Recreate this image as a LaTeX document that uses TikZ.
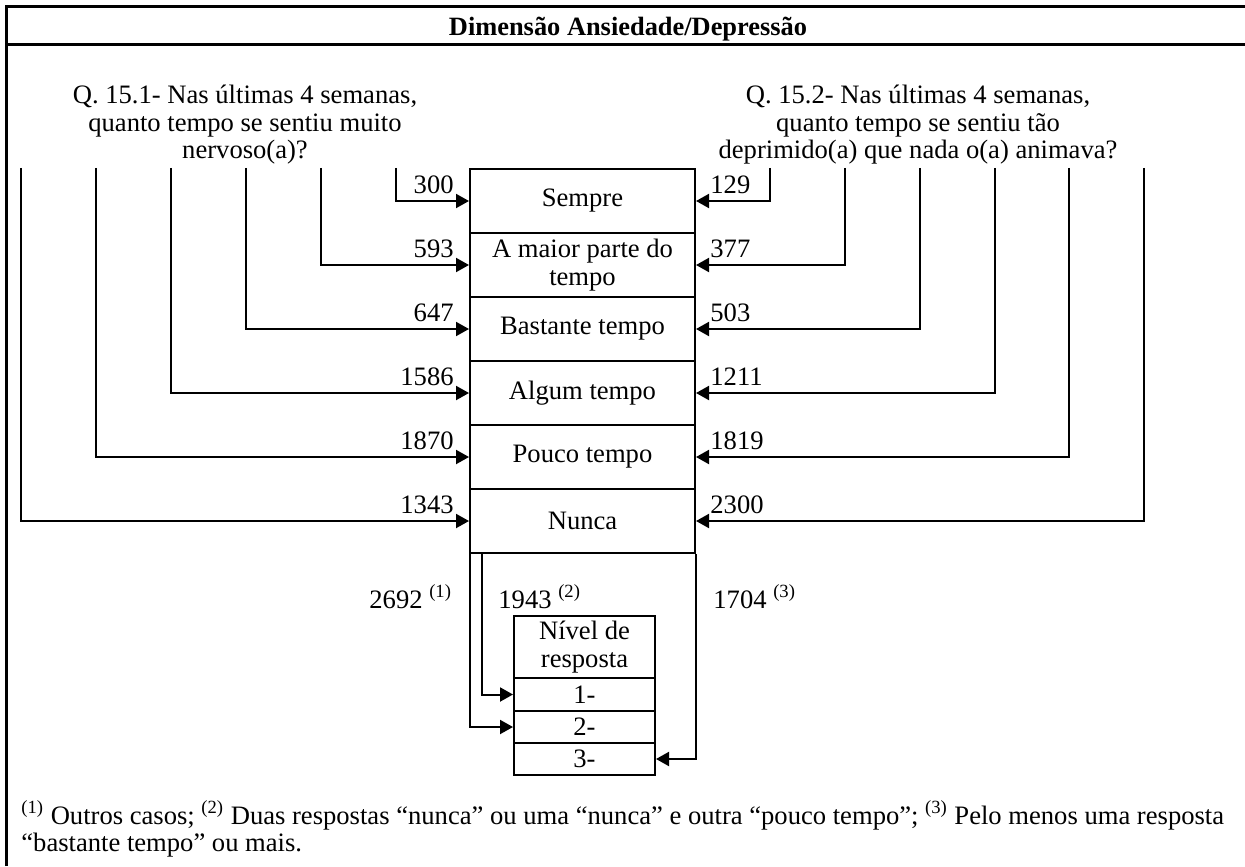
\documentclass[tikz,border=0pt]{standalone}
\usepackage{fontspec}
\setmainfont{Liberation Serif}
\usetikzlibrary{arrows.meta}
\newcommand{\bodysize}{\fontsize{13.3}{13.75}\selectfont}
\begin{document}
\begin{tikzpicture}[x=0.5pt,y=-0.5pt,
  txt/.style={inner sep=0pt,font=\bodysize},
  conn/.style={line width=1pt},
  arr/.style={conn,-{Triangle[length=6.5pt,width=7pt]}},
  frame/.style={line width=1.5pt},
  rowbox/.style={draw,line width=1pt,minimum width=112.5pt,minimum height=32pt,
    align=center,inner sep=0pt,font=\bodysize},
  lvlbox/.style={draw,line width=1pt,minimum width=70.5pt,
    align=center,inner sep=0pt,font=\bodysize},
  num/.style={txt}
]
\useasboundingbox (0,0) rectangle (1245,866);

% outer frame and title bar
\draw[frame] (6,866) -- (6,7) -- (1245,7);
\draw[frame] (6,45) -- (1245,45);
\node[txt,font=\fontsize{13.2}{14}\selectfont\bfseries,anchor=base] (title) at (628,36) {Dimensão Ansiedade/Depressão};

% the two questions
\foreach \t [count=\k] in {{Q. 15.1- Nas últimas 4 semanas,},{quanto tempo se sentiu muito},{nervoso(a)?}}
  \node[txt,anchor=base] (qa\k) at (245,{104+27.5*(\k-1)}) {\t};
\foreach \t [count=\k] in {{Q. 15.2- Nas últimas 4 semanas,},{quanto tempo se sentiu tão},{deprimido(a) que nada o(a) animava?}}
  \node[txt,anchor=base] (qb\k) at (918,{104+27.5*(\k-1)}) {\t};

% answer scale
\node[rowbox] (r1) at (582.5,201) {Sempre};
\node[rowbox] (r2) at (582.5,265) {A maior parte do\\tempo};
\node[rowbox] (r3) at (582.5,329) {Bastante tempo};
\node[rowbox] (r4) at (582.5,393) {Algum tempo};
\node[rowbox] (r5) at (582.5,457) {Pouco tempo};
\node[rowbox] (r6) at (582.5,521) {Nunca};

% answers to Q. 15.1 (left)
\foreach \x/\n [count=\i] in {396/300,321/593,246/647,171/1586,96/1870,21/1343}{
  \coordinate (la\i) at (\x,168);
  \draw[arr] (la\i) |- (r\i.west);
  \node[num,anchor=base east] (na\i) at ([xshift=-7.5pt,yshift=3.8pt]r\i.west) {\n};
}
% answers to Q. 15.2 (right)
\foreach \x/\n [count=\i] in {770/129,845/377,920/503,995/1211,1069/1819,1144/2300}{
  \coordinate (lb\i) at (\x,168);
  \draw[arr] (lb\i) |- (r\i.east);
  \node[num,anchor=base west] (nb\i) at ([xshift=7pt,yshift=3.8pt]r\i.east) {\n};
}

% response level
\node[lvlbox,minimum height=31pt] (lv) at (584.5,647) {Nível de\\resposta};
\node[lvlbox,minimum height=16.5pt] (s1) at (584.5,694.5) {1-};
\node[lvlbox,minimum height=16pt] (s2) at (584.5,727) {2-};
\node[lvlbox,minimum height=16pt] (s3) at (584.5,759) {3-};

\coordinate (b1) at ([xshift=0.5pt]r6.south west);
\coordinate (b2) at ([xshift=6.5pt]r6.south west);
\coordinate (b3) at (r6.south east);
\draw[arr] (b2) |- (s1.west);
\draw[arr] (b1) |- (s2.west);
\draw[arr] (b3) |- (s3.east);

\node[num,anchor=base west] (c1) at (369,608) {2692 \textsuperscript{(1)}};
\node[num,anchor=base west] (c2) at (498,608) {1943 \textsuperscript{(2)}};
\node[num,anchor=base west] (c3) at (713,608) {1704 \textsuperscript{(3)}};

% notes
\node[txt,anchor=base west] (f1) at (21,824) {\textsuperscript{(1)} Outros casos; \textsuperscript{(2)} Duas respostas “nunca” ou uma “nunca” e outra “pouco tempo”; \textsuperscript{(3)} Pelo menos uma resposta};
\node[txt,anchor=base west] (f2) at (21,851) {“bastante tempo” ou mais.};
\end{tikzpicture}
\end{document}
